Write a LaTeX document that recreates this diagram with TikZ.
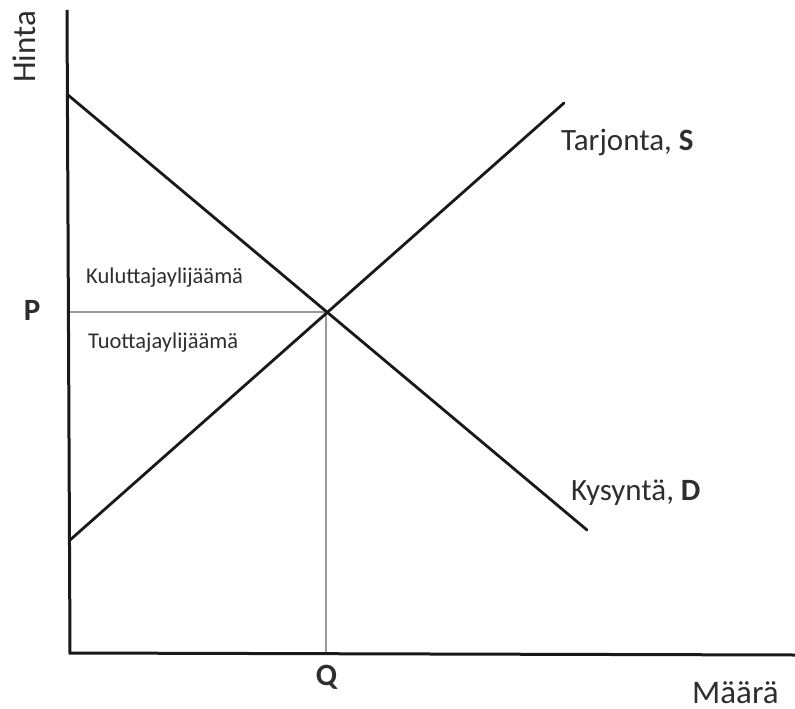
\documentclass[tikz,border=0pt]{standalone}
\usepackage{fontspec}
\setmainfont{Carlito}
\begin{document}
\begin{tikzpicture}[x=1pt,y=-1pt,
  axisline/.style={line width=3pt,black!90},
  curve/.style={line width=2.8pt,black!90,line cap=round},
  guide/.style={line width=1.5pt,black!40},
  txt/.style={inner sep=0pt,text=black!82},
  big/.style={txt,font=\fontsize{31}{36}\selectfont},
  axlab/.style={txt,font=\fontsize{33}{38}\selectfont},
  small/.style={txt,font=\fontsize{22.5}{26}\selectfont}]
\useasboundingbox (0,0) rectangle (795,709);
% coordinates
\coordinate (ytop) at (67,10);
\coordinate (orig) at (70,653);
\coordinate (xend) at (795,655);
\coordinate (dA) at (68,95);
\coordinate (dB) at (587,530);
\coordinate (sA) at (70,540);
\coordinate (sB) at (564,103);
\coordinate (E) at (326,312);
\coordinate (Pax) at (68,312);
\coordinate (Qax) at (326,653.5);
% guides
\draw[guide] (Pax) -- (E);
\draw[guide] (E) -- (Qax);
% axes
\draw[axisline] (ytop) -- (orig) -- (xend);
% curves
\draw[curve] (dA) -- (dB);
\draw[curve] (sA) -- (sB);
% labels
\node[axlab,rotate=90,anchor=base west] (hinta) at (35,83) {Hinta};
\node[axlab,anchor=base west] (maara) at (692,703) {Määrä};
\node[big,anchor=base west] (S) at (561,150) {Tarjonta, \textbf{S}};
\node[big,anchor=base west] (D) at (571,500) {Kysyntä, \textbf{D}};
\node[big,anchor=base] (P) at (32,320) {\textbf{P}};
\node[big,anchor=base] (Q) at (327,685) {\textbf{Q}};
\node[small,anchor=base west] (ks) at (86,283) {Kuluttajaylijäämä};
\node[small,anchor=base west] (ts) at (88,348) {Tuottajaylijäämä};
\end{tikzpicture}
\end{document}
